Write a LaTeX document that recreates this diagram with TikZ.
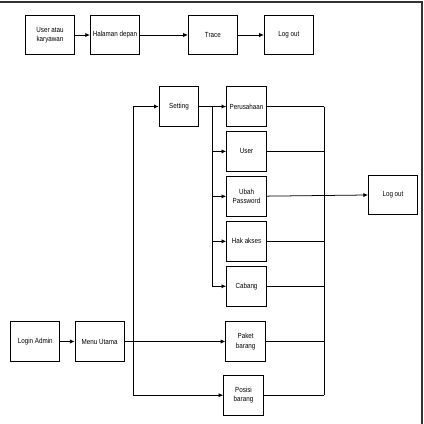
\documentclass[tikz,border=0pt]{standalone}
\usepackage{fontspec}
\setmainfont{Liberation Sans}[FakeStretch=0.85]
\usetikzlibrary{shapes,arrows,arrows.meta,positioning}

\begin{document}
\begin{tikzpicture}[
    x=0.03cm, y=-0.03cm,
    >={Latex[length=4pt,width=3.6pt]},
    box/.style={draw, rectangle, line width=0.8pt, minimum width=1.47cm, minimum height=1.16cm, align=center, inner sep=1pt, font=\fontsize{6.3}{8}\selectfont},
    sbox/.style={box, minimum width=1.19cm, minimum height=1.19cm},
    link/.style={line width=0.65pt}
]
    \useasboundingbox (0,0) rectangle (424,424);
    \draw[line width=0.9pt, black!80] (0,2) -- (422,2) -- (422,424);

    % alur user
    \node[box] (user) at (50,35) {User atau\\karyawan};
    \node[box, right=0.45cm of user] (halaman) {Halaman depan};
    \node[box, right=1.44cm of halaman] (trace) {Trace};
    \node[box, right=0.78cm of trace] (logout1) {Log out};

    \draw[->, link] (user) -- (halaman);
    \draw[->, link] (halaman) -- (trace);
    \draw[->, link] (trace) -- (logout1);

    % alur admin
    \node[box, minimum height=1.19cm] (login) at (35.3,341.5) {Login Admin};
    \node[box, minimum height=1.19cm, right=0.43cm of login] (menu) {Menu Utama};
    \node[sbox] (setting) at (179,106.5) {Setting};
    \node[sbox] (perusahaan) at (246.5,106.5) {Perusahaan};
    \node[sbox, below=0.13cm of perusahaan] (user2) {User};
    \node[sbox, below=0.13cm of user2] (ubah) {Ubah\\Password};
    \node[sbox, below=0.13cm of ubah] (hak) {Hak akses};
    \node[sbox, below=0.13cm of hak] (cabang) {Cabang};
    \node[sbox] (paket) at (245.7,341.5) {Paket\\barang};
    \node[sbox] (posisi) at (243.5,395.2) {Posisi\\barang};
    \node[box] (logout2) at (393,194.7) {Log out};

    \coordinate (fork) at (133.3,341.5);
    \coordinate (branch) at (212.5,106.5);
    \coordinate (collect) at (324.3,106.5);

    \draw[->, link] (login) -- (menu);
    \draw[->, link] (menu) -- (paket);
    \draw[->, link] (fork) |- (setting);
    \draw[->, link] (fork) |- (posisi);
    \draw[->, link] (setting) -- (perusahaan);
    \foreach \n in {user2, ubah, hak, cabang}
        \draw[->, link] (branch) |- (\n);

    \foreach \n in {perusahaan, user2, hak, cabang, paket, posisi}
        \draw[link] (\n.east) -- (\n.east -| collect);
    \draw[link] (collect) -- (posisi.east -| collect);
    \draw[->, link] (ubah) -- (logout2);
\end{tikzpicture}
\end{document}
